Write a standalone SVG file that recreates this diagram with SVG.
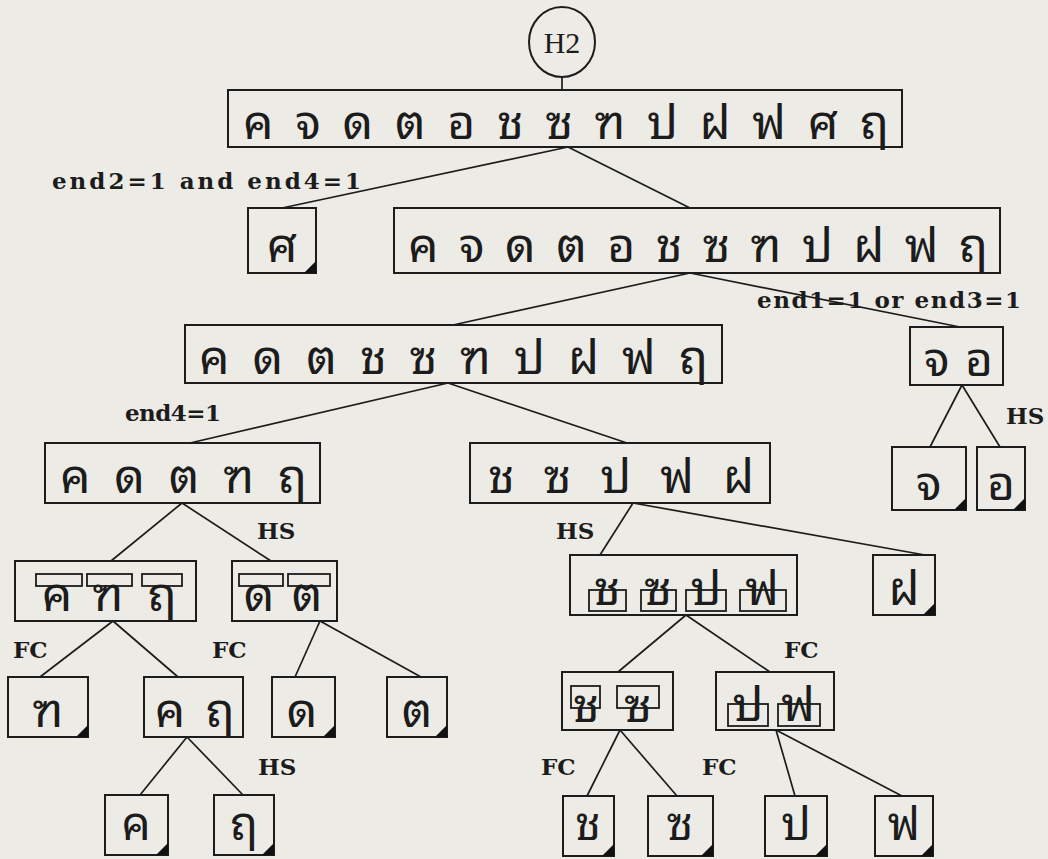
<svg xmlns="http://www.w3.org/2000/svg" width="1048" height="859" viewBox="0 0 1048 859">
<style>
.bg{fill:#ecebe5}
.box{fill:none;stroke:#1c1c1c;stroke-width:2}
.mk{fill:none;stroke:#1c1c1c;stroke-width:1.8}
.th{font-family:"Noto Sans Thai Looped","Loma","Garuda","Noto Sans Thai","Tlwg Typo","Noto Sans","DejaVu Sans",sans-serif;font-size:48px;fill:#1c1c1c}
.bt{font-size:46px}
.c{text-anchor:middle}
.lbl{font-family:"DejaVu Serif","Liberation Serif",serif;font-weight:bold;font-size:23px;fill:#1c1c1c}
.tri{fill:#111}
#edges line{stroke:#1c1c1c;stroke-width:1.7}
</style>
<rect class="bg" x="0" y="0" width="1048" height="859"/>
<g id="edges">
<line x1="562" y1="77" x2="562" y2="90"/>
<line x1="568" y1="147" x2="282" y2="208"/>
<line x1="568" y1="147" x2="690" y2="208"/>
<line x1="690" y1="273" x2="453" y2="325"/>
<line x1="690" y1="273" x2="960" y2="327"/>
<line x1="448" y1="383" x2="190" y2="443"/>
<line x1="448" y1="383" x2="627" y2="443"/>
<line x1="962" y1="385" x2="930" y2="447"/>
<line x1="962" y1="385" x2="1000" y2="447"/>
<line x1="182" y1="503" x2="111" y2="561"/>
<line x1="182" y1="503" x2="271" y2="561"/>
<line x1="633" y1="503" x2="600" y2="555"/>
<line x1="633" y1="503" x2="925" y2="555"/>
<line x1="113" y1="621" x2="40" y2="677"/>
<line x1="113" y1="621" x2="178" y2="677"/>
<line x1="320" y1="621" x2="295" y2="677"/>
<line x1="320" y1="621" x2="421" y2="677"/>
<line x1="686" y1="615" x2="618" y2="672"/>
<line x1="686" y1="615" x2="770" y2="672"/>
<line x1="187" y1="737" x2="140" y2="795"/>
<line x1="187" y1="737" x2="243" y2="795"/>
<line x1="620" y1="730" x2="587" y2="796"/>
<line x1="620" y1="730" x2="677" y2="796"/>
<line x1="776" y1="730" x2="795" y2="796"/>
<line x1="776" y1="730" x2="902" y2="796"/>
</g>
<g id="labels">
<text class="lbl" x="52" y="189" textLength="309" lengthAdjust="spacing">end2=1 and end4=1</text>
<text class="lbl" x="757" y="308" textLength="264" lengthAdjust="spacing">end1=1 or end3=1</text>
<text class="lbl" x="125" y="421" textLength="96" lengthAdjust="spacing">end4=1</text>
<text class="lbl" x="1006" y="424">HS</text>
<text class="lbl" x="257" y="539">HS</text>
<text class="lbl" x="556" y="539">HS</text>
<text class="lbl" x="13" y="658">FC</text>
<text class="lbl" x="212" y="658">FC</text>
<text class="lbl" x="784" y="658">FC</text>
<text class="lbl" x="258" y="775">HS</text>
<text class="lbl" x="541" y="775">FC</text>
<text class="lbl" x="702" y="775">FC</text>
</g>
<g id="n-H2">
<ellipse class="box" cx="562" cy="42" rx="33" ry="35"/>
<text x="562" y="53" text-anchor="middle" style="font-family:'Liberation Serif',serif;font-size:30px;fill:#1c1c1c">H2</text>
</g>
<g id="n-root">
<rect class="box" x="228" y="90" width="674" height="57"/>
<text class="th" x="243" y="139" textLength="646" lengthAdjust="spacing">ค จ ด ต อ ช ซ ฑ ป ฝ ฟ ศ ฤ</text>
</g>
<g id="n-so">
<rect class="box" x="248" y="208" width="68" height="65"/>
<text class="th c" x="282" y="262">ศ</text>
<path class="tri" d="M316 261 L316 273 L304 273 Z"/>
</g>
<g id="n-l1">
<rect class="box" x="394" y="208" width="606" height="65"/>
<text class="th" x="408" y="262" textLength="580" lengthAdjust="spacing">ค จ ด ต อ ช ซ ฑ ป ฝ ฟ ฤ</text>
</g>
<g id="n-l2">
<rect class="box" x="185" y="325" width="537" height="58"/>
<text class="th" x="199" y="374" textLength="509" lengthAdjust="spacing">ค ด ต ช ซ ฑ ป ฝ ฟ ฤ</text>
</g>
<g id="n-jo">
<rect class="box" x="910" y="327" width="93" height="58"/>
<text class="th c" x="937" y="376">จ</text>
<text class="th c" x="979" y="376">อ</text>
</g>
<g id="n-l3a">
<rect class="box" x="45" y="443" width="275" height="60"/>
<text class="th" x="60" y="493" textLength="247" lengthAdjust="spacing">ค ด ต ฑ ฤ</text>
</g>
<g id="n-l3b">
<rect class="box" x="470" y="443" width="300" height="60"/>
<text class="th" x="488" y="493" textLength="266" lengthAdjust="spacing">ช ซ ป ฟ ฝ</text>
</g>
<g id="n-jo1">
<rect class="box" x="892" y="447" width="74" height="63"/>
<text class="th c" x="929" y="500">จ</text>
<path class="tri" d="M966 498 L966 510 L954 510 Z"/>
</g>
<g id="n-jo2">
<rect class="box" x="977" y="447" width="48" height="63"/>
<text class="th c" x="1001" y="500">อ</text>
<path class="tri" d="M1025 498 L1025 510 L1013 510 Z"/>
</g>
<g id="n-hs1">
<rect class="box" x="15" y="561" width="181" height="60"/>
<text class="th c" x="57" y="611">ค</text>
<text class="th c" x="108" y="611">ฑ</text>
<text class="th c" x="162" y="611">ฤ</text>
<rect class="mk" x="36" y="574" width="46" height="12"/>
<rect class="mk" x="87" y="574" width="45" height="12"/>
<rect class="mk" x="142" y="574" width="40" height="12"/>
</g>
<g id="n-hs2">
<rect class="box" x="232" y="561" width="105" height="60"/>
<text class="th c" x="259" y="611">ด</text>
<text class="th c" x="307" y="611">ต</text>
<rect class="mk" x="239" y="574" width="44" height="12"/>
<rect class="mk" x="288" y="574" width="42" height="12"/>
</g>
<g id="n-hs3">
<rect class="box" x="570" y="555" width="227" height="60"/>
<text class="th c" x="607" y="605">ช</text>
<text class="th c" x="658" y="605">ซ</text>
<text class="th c" x="706" y="605">ป</text>
<text class="th c" x="762" y="605">ฟ</text>
<rect class="mk" x="589" y="590" width="37" height="21"/>
<rect class="mk" x="641" y="590" width="35" height="21"/>
<rect class="mk" x="686" y="590" width="40" height="21"/>
<rect class="mk" x="740" y="590" width="46" height="21"/>
</g>
<g id="n-fo">
<rect class="box" x="873" y="555" width="62" height="60"/>
<text class="th c" x="904" y="605">ฝ</text>
<path class="tri" d="M935 603 L935 615 L923 615 Z"/>
</g>
<g id="n-tho">
<rect class="box" x="8" y="677" width="80" height="60"/>
<text class="th c" x="48" y="727">ฑ</text>
<path class="tri" d="M88 725 L88 737 L76 737 Z"/>
</g>
<g id="n-khru">
<rect class="box" x="144" y="677" width="99" height="60"/>
<text class="th c" x="170" y="727">ค</text>
<text class="th c" x="220" y="727">ฤ</text>
</g>
<g id="n-do">
<rect class="box" x="272" y="677" width="63" height="60"/>
<text class="th c" x="302" y="727">ด</text>
<path class="tri" d="M335 725 L335 737 L323 737 Z"/>
</g>
<g id="n-to">
<rect class="box" x="387" y="677" width="60" height="60"/>
<text class="th c" x="417" y="727">ต</text>
<path class="tri" d="M447 725 L447 737 L435 737 Z"/>
</g>
<g id="n-chso">
<rect class="box" x="562" y="672" width="111" height="58"/>
<text class="th c" x="586" y="722">ช</text>
<text class="th c" x="638" y="722">ซ</text>
<rect class="mk" x="571" y="686" width="29" height="22"/>
<rect class="mk" x="617" y="686" width="42" height="22"/>
</g>
<g id="n-pofo">
<rect class="box" x="716" y="672" width="118" height="58"/>
<text class="th c" x="748" y="721">ป</text>
<text class="th c" x="798" y="721">ฟ</text>
<rect class="mk" x="728" y="704" width="40" height="22"/>
<rect class="mk" x="778" y="704" width="42" height="22"/>
</g>
<g id="n-kho">
<rect class="box" x="105" y="795" width="63" height="60"/>
<text class="th bt c" x="136" y="840">ค</text>
<path class="tri" d="M168 843 L168 855 L156 855 Z"/>
</g>
<g id="n-ru">
<rect class="box" x="214" y="795" width="60" height="60"/>
<text class="th bt c" x="244" y="840">ฤ</text>
<path class="tri" d="M274 843 L274 855 L262 855 Z"/>
</g>
<g id="n-cho">
<rect class="box" x="563" y="796" width="51" height="60"/>
<text class="th bt c" x="588" y="840">ช</text>
<path class="tri" d="M614 844 L614 856 L602 856 Z"/>
</g>
<g id="n-so2">
<rect class="box" x="648" y="796" width="65" height="60"/>
<text class="th bt c" x="680" y="840">ซ</text>
<path class="tri" d="M713 844 L713 856 L701 856 Z"/>
</g>
<g id="n-po">
<rect class="box" x="765" y="796" width="62" height="60"/>
<text class="th bt c" x="796" y="840">ป</text>
<path class="tri" d="M827 844 L827 856 L815 856 Z"/>
</g>
<g id="n-fo2">
<rect class="box" x="875" y="796" width="58" height="60"/>
<text class="th bt c" x="904" y="840">ฟ</text>
<path class="tri" d="M933 844 L933 856 L921 856 Z"/>
</g>
</svg>
